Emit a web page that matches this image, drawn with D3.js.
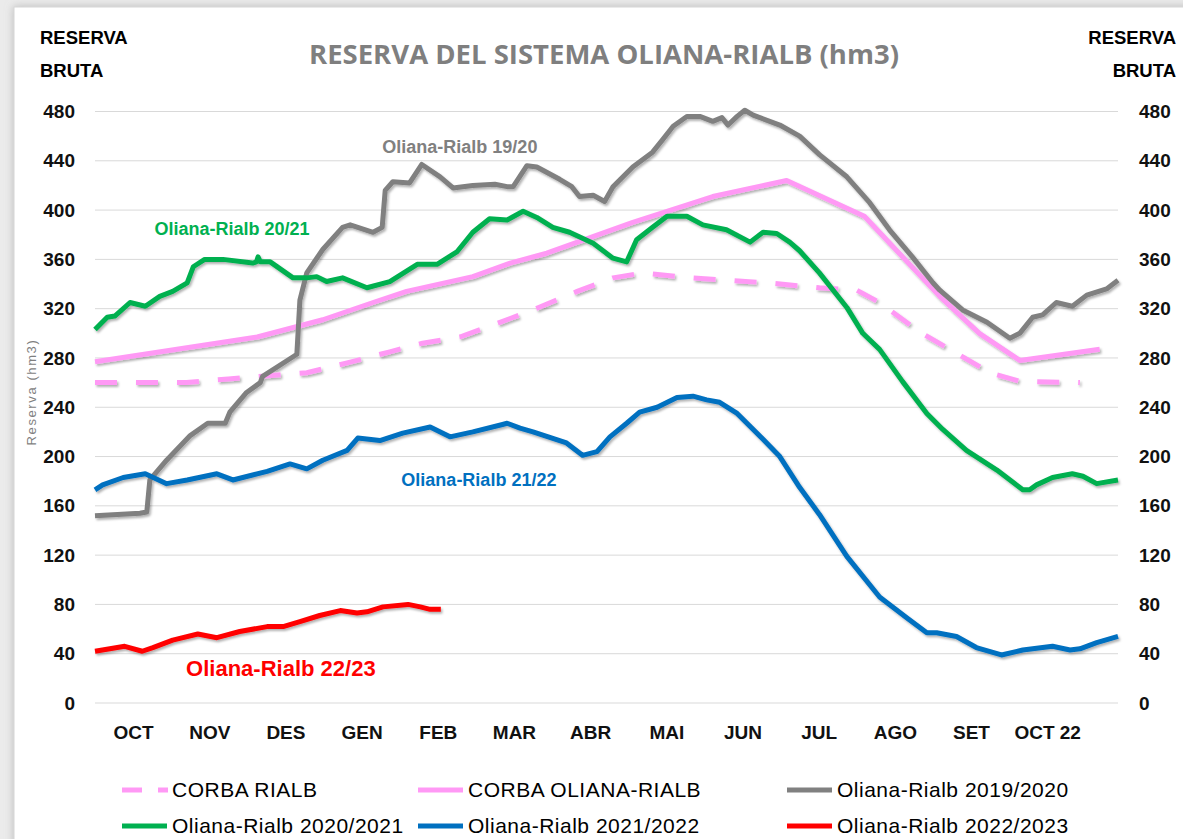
<!DOCTYPE html>
<html>
<head>
<meta charset="utf-8">
<script src="https://cdn.jsdelivr.net/npm/d3@7"></script>
<style>
  body { margin: 0; background: #e9e9e9; }
  svg { display: block; }
</style>
</head>
<body>
<svg width="1183" height="839"></svg>
<script>
// month labels (position = month index + 0.5 from 1 Oct)
const months = ["OCT", "NOV", "DES", "GEN", "FEB", "MAR", "ABR", "MAI", "JUN", "JUL", "AGO", "SET", "OCT 22"];
const yTicks = [0, 40, 80, 120, 160, 200, 240, 280, 320, 360, 400, 440, 480];

// [month from 1 Oct, hm3]
const corbaRialb = [[0,260],[1.2,260],[1.75,263],[2.78,268],[3.31,276],[3.87,285],[4.30,292],[4.79,297],[5.45,312],[5.75,319],[6.33,334],[6.80,345],[7.19,349],[7.81,345],[8.82,341],[9.51,337],[10.00,335],[10.30,325],[10.83,301],[11.75,268],[12.14,261],[12.93,260]];
const corbaOlianaRialb = [[0,277],[2.13,297],[2.99,311],[3.65,325],[4.09,334],[4.96,346],[5.45,357],[5.93,365],[7.06,390],[8.11,411],[9.08,424],[10.10,395],[11.09,330],[11.61,300],[12.14,278],[13.19,287]];
const or1920 = [[0,152],[0.59,154],[0.68,155],[0.72,181],[0.94,197],[1.25,217],[1.48,227],[1.71,227],[1.77,236],[1.99,252],[2.17,260],[2.20,265],[2.60,281],[2.65,283],[2.69,327],[2.78,349],[2.99,368],[3.25,386],[3.35,388],[3.65,382],[3.77,386],[3.81,416],[3.91,423],[4.13,422],[4.29,437],[4.53,427],[4.70,418],[4.96,420],[5.25,421],[5.41,419],[5.49,419],[5.67,436],[5.80,435],[6.10,425],[6.26,419],[6.36,411],[6.54,412],[6.69,407],[6.80,419],[7.06,435],[7.32,447],[7.45,457],[7.59,468],[7.77,476],[7.94,476],[8.11,472],[8.23,475],[8.31,469],[8.43,476],[8.53,481],[8.64,477],[8.99,469],[9.25,460],[9.51,445],[9.87,427],[10.17,406],[10.43,384],[10.73,362],[11.00,341],[11.09,335],[11.39,319],[11.71,309],[12.01,296],[12.14,300],[12.31,313],[12.44,315],[12.62,325],[12.83,322],[13.02,331],[13.28,336],[13.43,343]];
const or2021 = [[0,303],[0.16,313],[0.26,314],[0.46,325],[0.66,322],[0.85,330],[1.02,334],[1.21,341],[1.29,354],[1.44,360],[1.68,360],[2.07,357],[2.12,358],[2.14,362],[2.17,358],[2.30,358],[2.60,345],[2.78,345],[2.91,346],[3.04,342],[3.25,345],[3.57,337],[3.87,342],[4.23,356],[4.49,356],[4.75,366],[4.96,382],[5.18,393],[5.41,392],[5.62,399],[5.80,394],[6.01,386],[6.23,382],[6.54,373],[6.80,361],[6.98,358],[7.11,376],[7.32,386],[7.51,395],[7.77,395],[7.98,388],[8.29,384],[8.60,374],[8.77,382],[8.95,381],[9.12,374],[9.25,367],[9.51,349],[9.87,321],[10.08,300],[10.30,287],[10.60,261],[10.92,235],[11.13,222],[11.44,205],[11.84,189],[12.18,173],[12.27,173],[12.36,177],[12.57,183],[12.83,186],[12.97,184],[13.15,178],[13.43,181]];
const or2122 = [[0,173],[0.10,177],[0.37,183],[0.66,186],[0.94,178],[1.21,181],[1.60,186],[1.81,181],[2.26,188],[2.56,194],[2.78,190],[2.99,197],[3.31,205],[3.45,215],[3.74,213],[4.04,219],[4.40,224],[4.66,216],[4.96,220],[5.35,226],[5.41,227],[5.58,223],[5.75,220],[6.19,211],[6.40,201],[6.59,204],[6.76,216],[6.98,227],[7.15,236],[7.38,240],[7.64,248],[7.85,249],[8.03,246],[8.20,244],[8.43,235],[8.77,214],[8.99,200],[9.25,175],[9.51,153],[9.87,119],[10.30,86],[10.66,69],[10.92,57],[11.05,57],[11.31,54],[11.57,45],[11.90,39],[12.18,43],[12.57,46],[12.80,43],[12.93,44],[13.15,49],[13.43,54]];
const or2223 = [[0,42],[0.39,46],[0.62,42],[0.76,45],[1.02,51],[1.35,56],[1.60,53],[1.90,58],[2.26,62],[2.47,62],[2.69,66],[2.95,71],[3.22,75],[3.44,73],[3.57,74],[3.78,78],[4.11,80],[4.27,78],[4.40,76],[4.54,76]];

const series = [
  { name: "CORBA RIALB", data: corbaRialb, color: "#ff99f5", dash: "22,19" },
  { name: "CORBA OLIANA-RIALB", data: corbaOlianaRialb, color: "#ff99f5" },
  { name: "Oliana-Rialb 2019/2020", data: or1920, color: "#808080" },
  { name: "Oliana-Rialb 2020/2021", data: or2021, color: "#00b050" },
  { name: "Oliana-Rialb 2021/2022", data: or2122, color: "#0070c0" },
  { name: "Oliana-Rialb 2022/2023", data: or2223, color: "#ff0000" }
];

const svg = d3.select("svg");

// outer frame
const defs = svg.append("defs");
const sh = defs.append("filter").attr("id", "boxshadow").attr("x", "-5%").attr("y", "-5%").attr("width", "110%").attr("height", "110%");
sh.append("feDropShadow").attr("dx", 0).attr("dy", 0).attr("stdDeviation", 4).attr("flood-color", "#999").attr("flood-opacity", 0.6);
const lsh = defs.append("filter").attr("id", "lineshadow").attr("x", "-5%").attr("y", "-5%").attr("width", "110%").attr("height", "110%");
lsh.append("feDropShadow").attr("dx", 1.5).attr("dy", 2).attr("stdDeviation", 1.2).attr("flood-color", "#000").attr("flood-opacity", 0.3);

svg.append("rect").attr("width", 1183).attr("height", 839).attr("fill", "#ebebeb");
svg.append("rect").attr("x", 14).attr("y", 7).attr("width", 1200).attr("height", 900)
  .attr("fill", "#fff").attr("stroke", "#d6d6d6").attr("filter", "url(#boxshadow)");

const x = d3.scaleLinear().domain([0, 13.43]).range([95, 1118]);
const y = d3.scaleLinear().domain([0, 480]).range([703, 111.5]);

// grid
svg.append("g").selectAll("line").data(yTicks).join("line")
  .attr("x1", x(0)).attr("x2", x(13.43))
  .attr("y1", d => y(d)).attr("y2", d => y(d))
  .attr("stroke", "#d9d9d9").attr("stroke-width", 1);

// y axes (left and right)
const axisFont = "'Liberation Sans', Arial, sans-serif";
const yl = svg.append("g").attr("transform", `translate(${x(0)},0)`)
  .call(d3.axisLeft(y).tickValues(yTicks).tickSize(0).tickPadding(20));
const yr = svg.append("g").attr("transform", `translate(${x(13.43)},0)`)
  .call(d3.axisRight(y).tickValues(yTicks).tickSize(0).tickPadding(21));
[yl, yr].forEach(g => {
  g.select(".domain").remove();
  g.selectAll("text").attr("font-family", axisFont).attr("font-weight", "bold")
    .attr("font-size", 19).attr("fill", "#111");
});

// x axis month labels
const xa = svg.append("g").attr("transform", `translate(0,${y(0)})`)
  .call(d3.axisBottom(x).tickValues(months.map((m, i) => i + 0.5))
    .tickFormat((d, i) => months[i]).tickSize(0).tickPadding(23));
xa.select(".domain").remove();
xa.selectAll("text").attr("font-family", axisFont).attr("font-weight", "bold")
  .attr("font-size", 19).attr("fill", "#111");

// lines
const line = d3.line().x(d => x(d[0])).y(d => y(d[1]));
svg.append("g").attr("filter", "url(#lineshadow)").selectAll("path").data(series).join("path")
  .attr("d", d => line(d.data))
  .attr("fill", "none")
  .attr("stroke", d => d.color)
  .attr("stroke-width", 5)
  .attr("stroke-linejoin", "round")
  .attr("stroke-dasharray", d => d.dash || null);

// titles
svg.append("text").attr("x", 604).attr("y", 64).attr("text-anchor", "middle")
  .attr("font-family", "'Open Sans', sans-serif").attr("font-weight", "bold")
  .attr("font-size", 27.5).attr("fill", "#7f7f7f")
  .text("RESERVA DEL SISTEMA OLIANA-RIALB (hm3)");

const sideLabel = (tx, anchor) => {
  [["RESERVA", 44], ["BRUTA", 77]].forEach(([t, ty]) => {
    svg.append("text").attr("x", tx).attr("y", ty).attr("text-anchor", anchor)
      .attr("font-family", axisFont).attr("font-weight", "bold").attr("font-size", 18.5)
      .attr("fill", "#000").text(t);
  });
};
sideLabel(40, "start");
sideLabel(1176, "end");

svg.append("text").attr("transform", "translate(36,392) rotate(-90)")
  .attr("text-anchor", "middle").attr("font-family", axisFont)
  .attr("font-size", 13).attr("letter-spacing", 1.6).attr("fill", "#7f7f7f")
  .text("Reserva (hm3)");

// series annotations
const notes = [
  { t: "Oliana-Rialb 19/20", m: 4.79, v: 446, c: "#808080", s: 18 },
  { t: "Oliana-Rialb 20/21", m: 1.8, v: 380, c: "#00b050", s: 18 },
  { t: "Oliana-Rialb 21/22", m: 5.04, v: 176, c: "#0070c0", s: 18 },
  { t: "Oliana-Rialb 22/23", m: 2.44, v: 22, c: "#ff0000", s: 22 }
];
svg.append("g").selectAll("text").data(notes).join("text")
  .attr("x", d => x(d.m)).attr("y", d => y(d.v)).attr("text-anchor", "middle")
  .attr("font-family", axisFont).attr("font-weight", "bold")
  .attr("font-size", d => d.s).attr("fill", d => d.c).text(d => d.t);

// legend
const legX = [122, 418, 787];
const legY = [790, 826];
const leg = svg.append("g").selectAll("g").data(series).join("g")
  .attr("transform", (d, i) => `translate(${legX[i % 3]},${legY[Math.floor(i / 3)]})`);
leg.append("line").attr("x1", 0).attr("x2", d => d.dash ? 46 : 45)
  .attr("stroke", d => d.color).attr("stroke-width", 5)
  .attr("stroke-dasharray", d => d.dash ? "20,16" : null);
leg.append("text").attr("x", 50).attr("dy", "0.35em")
  .attr("font-family", axisFont).attr("font-size", 21).attr("letter-spacing", 0.5)
  .attr("fill", "#000")
  .text(d => d.name);
</script>
</body>
</html>
